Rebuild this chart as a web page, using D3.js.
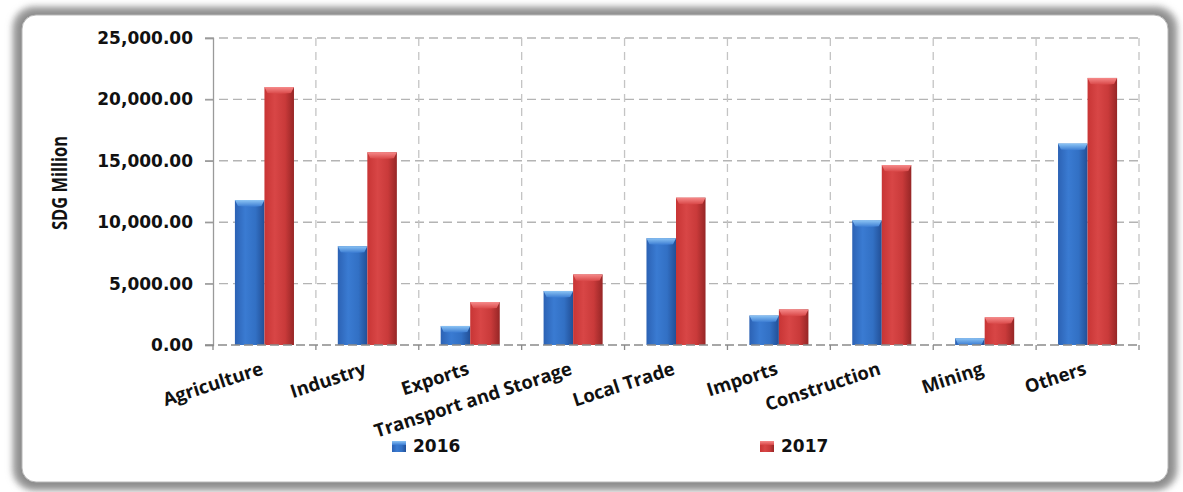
<!DOCTYPE html>
<html>
<head>
<meta charset="utf-8">
<script src="https://cdn.jsdelivr.net/npm/d3@7"></script>
<style>
  html, body { margin: 0; padding: 0; background: #ffffff; }
  svg { display: block; }
</style>
</head>
<body>
<svg id="chart" width="1183" height="492"></svg>
<script>
// Sector values, SDG million
const categories = ["Agriculture", "Industry", "Exports", "Transport and Storage", "Local Trade", "Imports", "Construction", "Mining", "Others"];
const values2016 = [11800, 8050, 1550, 4400, 8700, 2400, 10150, 550, 16400];
const values2017 = [21000, 15700, 3500, 5750, 12000, 2900, 14650, 2250, 21750];
const seriesNames = ["2016", "2017"];
const yTicks = [0, 5000, 10000, 15000, 20000, 25000];
const yTitle = "SDG Million";

// Layout
const W = 1183, H = 492;
const plot = { left: 213, right: 1139, top: 38, bottom: 345 };

const svg = d3.select("#chart");
const defs = svg.append("defs");

// Frame shadow
const shadow = defs.append("filter").attr("id", "frameShadow")
  .attr("x", "-5%").attr("y", "-5%").attr("width", "110%").attr("height", "110%");
shadow.append("feGaussianBlur").attr("stdDeviation", 3);

// Bar gradients
function hGrad(id, stops) {
  const g = defs.append("linearGradient").attr("id", id)
    .attr("x1", "0%").attr("x2", "100%").attr("y1", "0%").attr("y2", "0%");
  stops.forEach(s => g.append("stop").attr("offset", s[0]).attr("stop-color", s[1]));
}
function vGrad(id, stops) {
  const g = defs.append("linearGradient").attr("id", id)
    .attr("x1", "0%").attr("x2", "0%").attr("y1", "0%").attr("y2", "100%");
  stops.forEach(s => g.append("stop").attr("offset", s[0]).attr("stop-color", s[1]));
}
hGrad("bodyBlue", [["0%", "#2c62b4"], ["35%", "#3a7bd2"], ["70%", "#3270c4"], ["100%", "#224f96"]]);
hGrad("bodyRed", [["0%", "#c83535"], ["35%", "#d84646"], ["70%", "#c93a3a"], ["100%", "#962626"]]);
vGrad("capBlue", [["0%", "#8cc4f4"], ["100%", "#3a7bd2"]]);
vGrad("capRed", [["0%", "#f68a8a"], ["100%", "#d84646"]]);

const bodyFill = ["url(#bodyBlue)", "url(#bodyRed)"];
const capFill = ["url(#capBlue)", "url(#capRed)"];

// Frame: soft grey rim around a white rounded panel
svg.append("rect")
  .attr("x", 12).attr("y", 6).attr("width", 1166).attr("height", 485)
  .attr("rx", 22).attr("fill", "#b0b0b0").attr("filter", "url(#frameShadow)");
svg.append("rect")
  .attr("x", 17).attr("y", 11).attr("width", 1156).attr("height", 476)
  .attr("rx", 18).attr("fill", "#8a8a8a").attr("filter", "url(#frameShadow)");
svg.append("rect")
  .attr("x", 22).attr("y", 15).attr("width", 1146).attr("height", 467)
  .attr("rx", 14).attr("fill", "#ffffff").attr("stroke", "#b8b8b8").attr("stroke-width", 1);

// Scales
const x = d3.scaleBand().domain(categories).range([plot.left, plot.right]).padding(0);
const xs = d3.scaleBand().domain(seriesNames)
  .range([x.bandwidth() * 0.213, x.bandwidth() * 0.787]).padding(0);
const y = d3.scaleLinear().domain([0, 25000]).range([plot.bottom, plot.top]);

// Horizontal gridlines
svg.append("g").selectAll("line").data(yTicks.filter(t => t > 0)).join("line")
  .attr("x1", plot.left - 8).attr("x2", plot.right)
  .attr("y1", d => y(d)).attr("y2", d => y(d))
  .attr("stroke", "#b4b4b4").attr("stroke-width", 1.4).attr("stroke-dasharray", "9,5");

// Vertical gridlines at category boundaries
const boundaries = categories.map(c => x(c) + x.bandwidth());
svg.append("g").selectAll("line").data(boundaries).join("line")
  .attr("x1", d => d).attr("x2", d => d)
  .attr("y1", plot.top).attr("y2", plot.bottom)
  .attr("stroke", "#c4c4c4").attr("stroke-width", 1.3).attr("stroke-dasharray", "8,6");

// Y axis
const yAxis = d3.axisLeft(y).tickValues(yTicks).tickSize(8).tickPadding(12)
  .tickFormat(d => d3.format(",.2f")(d));
const yg = svg.append("g").attr("transform", `translate(${plot.left},0)`).call(yAxis);
yg.select(".domain").attr("stroke", "#9a9a9a").attr("stroke-width", 1.3);
yg.selectAll(".tick line").attr("stroke", "#9a9a9a").attr("stroke-width", 1.3);
yg.selectAll(".tick text")
  .attr("font-family", "DejaVu Sans").attr("font-weight", "bold")
  .attr("font-size", 17).attr("fill", "#111");

// Y title (slightly widened glyphs)
svg.append("text")
  .attr("transform", `translate(67,183) rotate(-90) scale(1,1.25)`)
  .attr("text-anchor", "middle")
  .attr("font-family", "Open Sans").attr("font-weight", "bold")
  .attr("font-size", 16.5).attr("fill", "#111")
  .text(yTitle);

// Bars
const rows = categories.map((c, i) => ({ c, vals: [values2016[i], values2017[i]] }));
const groups = svg.append("g").selectAll("g").data(rows).join("g")
  .attr("transform", d => `translate(${x(d.c)},0)`);
groups.each(function (d) {
  const g = d3.select(this);
  d.vals.forEach((v, k) => {
    const bx = xs(seriesNames[k]);
    const bw = xs.bandwidth();
    const top = y(v);
    const h = y(0) - top;
    g.append("rect")
      .attr("x", bx).attr("y", top).attr("width", bw).attr("height", h)
      .attr("fill", bodyFill[k]);
    const capH = Math.min(6, h);
    g.append("path")
      .attr("d", `M${bx},${top} L${bx + bw},${top} L${bx + bw - 3},${top + capH} Q${bx + bw / 2},${top + capH + 1.5} ${bx + 3},${top + capH} Z`)
      .attr("fill", capFill[k]);
  });
});

// X axis baseline with boundary ticks
svg.append("line")
  .attr("x1", plot.left - 8).attr("x2", plot.right)
  .attr("y1", y(0)).attr("y2", y(0))
  .attr("stroke", "#8a8a8a").attr("stroke-width", 1.5).attr("stroke-dasharray", "9,4");
svg.append("g").selectAll("line").data([plot.left].concat(boundaries)).join("line")
  .attr("x1", d => d).attr("x2", d => d)
  .attr("y1", y(0)).attr("y2", y(0) + 5)
  .attr("stroke", "#8a8a8a").attr("stroke-width", 1.3);

// Category labels, rotated, ending under each band centre
svg.append("g").selectAll("text").data(categories).join("text")
  .attr("transform", d => `translate(${x(d) + x.bandwidth() / 2},${y(0) + 29}) rotate(-18)`)
  .attr("text-anchor", "end")
  .attr("font-family", "Open Sans").attr("font-weight", "bold")
  .attr("font-size", 18.5).attr("fill", "#111")
  .text(d => d);

// Legend
const legendX = [392, 760];
const legend = svg.append("g").selectAll("g").data(seriesNames).join("g")
  .attr("transform", (d, i) => `translate(${legendX[i]},441)`);
legend.append("rect").attr("width", 14).attr("height", 11).attr("fill", (d, i) => bodyFill[i]);
legend.append("rect").attr("width", 14).attr("height", 4).attr("fill", (d, i) => capFill[i]);
legend.append("text")
  .attr("x", 21).attr("y", 11)
  .attr("font-family", "DejaVu Sans").attr("font-weight", "bold")
  .attr("font-size", 17).attr("fill", "#111")
  .text(d => d);
</script>
</body>
</html>
